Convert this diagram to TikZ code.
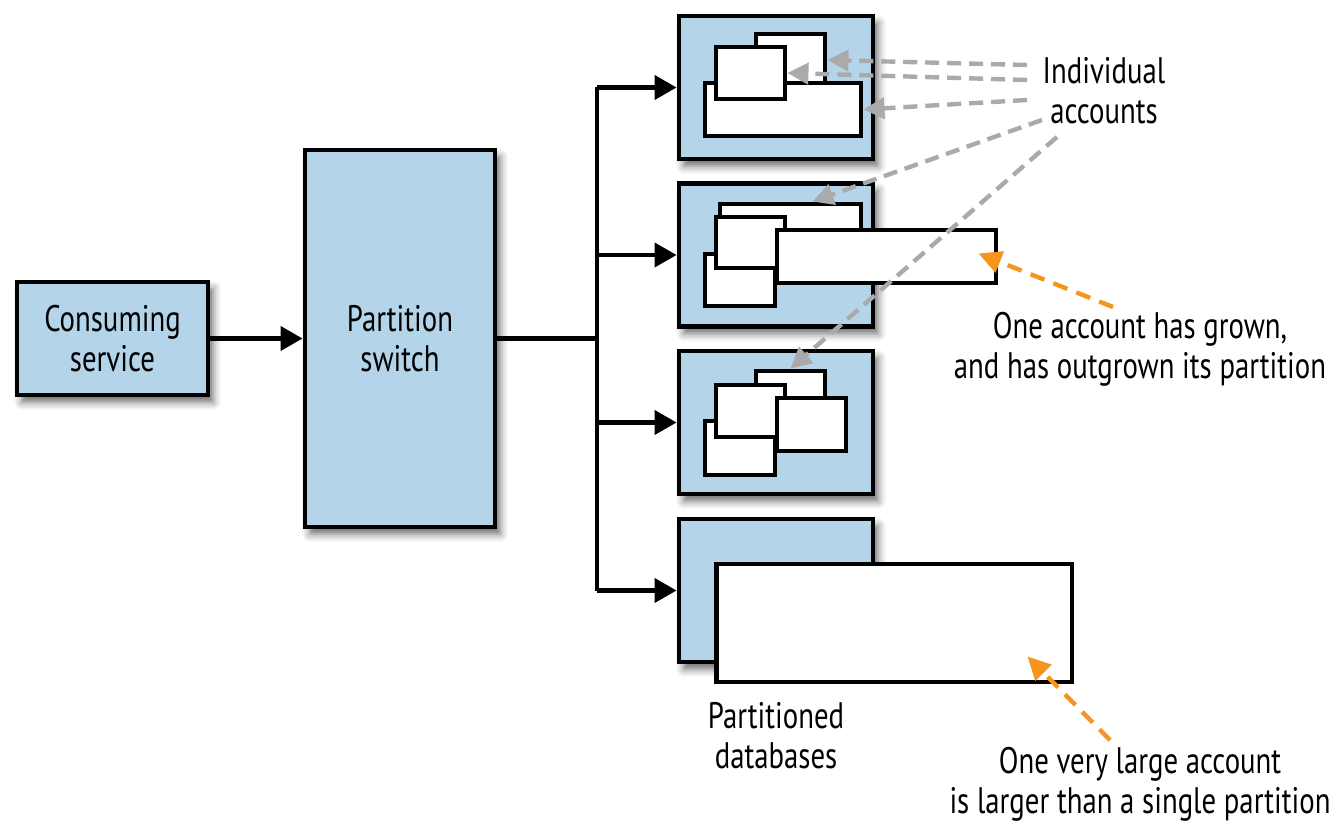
\documentclass[tikz,border=0pt]{standalone}
\usepackage{fontspec}
\setmainfont{PT Sans}[FakeStretch=0.78]
\usetikzlibrary{arrows.meta,calc,shadows.blur}
\definecolor{dbblue}{RGB}{180,212,233}
\definecolor{ptrgray}{RGB}{170,170,170}
\definecolor{ptrorange}{RGB}{247,148,30}
\tikzset{
  >={Triangle[length=0.44cm,width=0.48cm]},
  txt/.style={font=\fontsize{21}{22.7}\selectfont,align=center},
  box/.style={draw,line width=2.8pt,fill=dbblue,
    blur shadow={shadow xshift=0.1cm,shadow yshift=-0.14cm,shadow blur radius=0.16cm,shadow opacity=60}},
  acct/.style={draw,line width=2.8pt,fill=white},
  feed/.style={line width=2.3pt},
  ptr/.style={draw=ptrgray,line width=2.5pt,dash pattern=on 8pt off 4.5pt,
    -{Triangle[length=0.42cm,width=0.42cm]}},
  warn/.style={draw=ptrorange,line width=2.5pt,dash pattern=on 8.5pt off 5.5pt,
    -{Triangle[length=0.46cm,width=0.44cm]}}
}
\begin{document}
\begin{tikzpicture}[x=0.02cm,y=-0.02cm]
\useasboundingbox (0,0) rectangle (1331,827);
\node[box,txt,minimum width=3.82cm,minimum height=2.26cm] (cons) at (112.5,338.5) {Consuming\\service};
\node[box,txt,minimum width=3.8cm,minimum height=7.54cm] (switch) at (400,338.5) {Partition\\switch};
\foreach \i/\y in {1/87.5,2/255,3/422.5,4/590.5}
  \node[box,minimum width=3.88cm,minimum height=2.86cm] (p\i) at (776,\y) {};

\node[acct,minimum width=1.38cm,minimum height=1.04cm] (a1) at (790.5,60) {};
\node[acct,minimum width=3.12cm,minimum height=1.06cm] (a3) at (783,109.5) {};
\node[acct,minimum width=1.38cm,minimum height=1.04cm] (a2) at (750.5,73) {};

\node[acct,minimum width=2.82cm,minimum height=0.88cm] (b1) at (790.5,226) {};
\node[acct,minimum width=1.4cm,minimum height=1.04cm] (b2) at (740,280) {};
\node[acct,minimum width=1.38cm,minimum height=1.02cm] (b3) at (750.5,242.5) {};
\node[acct,minimum width=4.38cm,minimum height=1.06cm] (b4) at (886.5,256.5) {};

\node[acct,minimum width=1.38cm,minimum height=1.04cm] (c1) at (790.5,397) {};
\node[acct,minimum width=1.4cm,minimum height=1.08cm] (c2) at (740,448) {};
\node[acct,minimum width=1.38cm,minimum height=1.04cm] (c3) at (750.5,411) {};
\node[acct,minimum width=1.38cm,minimum height=1.06cm] (c4) at (811.5,424.5) {};

\node[acct,minimum width=7.12cm,minimum height=2.36cm] (d1) at (894,623) {};

\coordinate (junc) at ($(switch.east)+(100,0)$);
\draw[feed,->] (cons) -- (switch);
\draw[feed] (switch.east) -- (junc);
\draw[feed] (junc |- p1.west) -- (junc |- p4.west);
\foreach \i in {1,...,4}
  \draw[feed,->] (junc |- p\i.west) -- (p\i.west);

\node[txt] (indiv) at (1104,91) {Individual\\accounts};
\node[txt] (grown) at (1140,349) {One account has grown,\\and has outgrown its partition};
\node[txt] (pdb) at (776,736) {Partitioned\\databases};
\node[txt] (large) at (1140,784) {One very large account\\is larger than a single partition};

\coordinate (g1) at (1027,65);
\coordinate (g2) at (1027,80);
\coordinate (g3) at (1027,100);
\coordinate (g4) at (1042,120);
\coordinate (g5) at (1057,137);
\draw[ptr] (g1) -- (a1.east);
\draw[ptr] (g2) -- (a2.east);
\draw[ptr] (g3) -- (a3.east);
\draw[ptr] (g4) -- ($(b1.north)+(22,0)$);
\draw[ptr] (g5) -- (c1.north);

\coordinate (o1) at (1113,307);
\coordinate (o2) at (1110,740);
\draw[warn] (o1) -- ($(b4.east)+(-20,-3)$);
\draw[warn] (o2) -- ($(d1.south east)+(-47,-28)$);
\end{tikzpicture}
\end{document}
